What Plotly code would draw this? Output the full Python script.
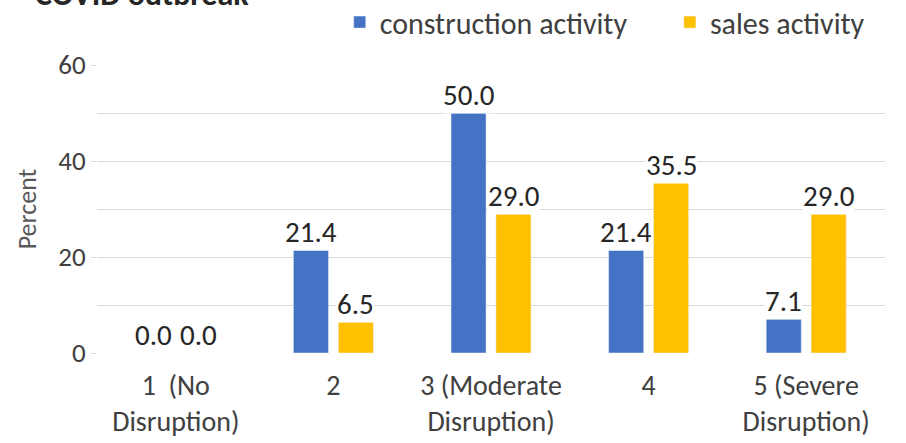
import plotly.graph_objects as go

categories = ["1  (No<br>Disruption)", "2", "3 (Moderate<br>Disruption)", "4", "5 (Severe<br>Disruption)"]
construction = [0.0, 21.4, 50.0, 21.4, 7.1]
sales = [0.0, 6.5, 29.0, 35.5, 29.0]
y_ticks = [0, 20, 40, 60]

FONT = "Carlito, Calibri, Lato, sans-serif"
TEXT = "#404040"
GRID = "#d9d9d9"
series = [
    ("construction activity", construction, "#4472C4", -22.5, "legend"),
    ("sales activity", sales, "#FFC000", 22.5, "legend2"),
]

fig = go.Figure()
annotations = []
for name, values, color, shift, leg in series:
    fig.add_trace(go.Bar(name=name, x=categories, y=values, marker_color=color, legend=leg))
    # value labels on a white box so gridlines break behind them
    for i, v in enumerate(values):
        annotations.append(dict(
            x=i, y=v, xref="x", yref="y", text=f"{v:.1f}", showarrow=False,
            xshift=shift, yshift=-1, xanchor="center", yanchor="bottom",
            bgcolor="white", borderpad=0,
            font=dict(size=29, color="#262626", family=FONT),
        ))

# chart heading, running off the top edge
annotations.append(dict(
    text="<b>COVID outbreak</b>", xref="paper", yref="paper",
    x=-0.081, y=1, xanchor="left", yanchor="bottom", yshift=49,
    font=dict(size=32, color="#262626", family=FONT), showarrow=False,
))

legend_style = dict(orientation="h", yanchor="middle", y=1.149, xanchor="left",
                    font=dict(size=30, color=TEXT), itemwidth=30, bgcolor="rgba(0,0,0,0)")

fig.update_layout(
    width=906, height=443,
    margin=dict(l=97, r=21, t=65, b=90, autoexpand=False),
    paper_bgcolor="white", plot_bgcolor="white",
    font=dict(family=FONT, size=28, color=TEXT),
    barmode="group", bargap=0.43, bargroupgap=0.22,
    showlegend=True,
    legend=dict(x=0.308, **legend_style),
    legend2=dict(x=0.727, **legend_style),
    annotations=annotations,
)
fig.update_xaxes(showline=False, ticks="", tickfont=dict(size=28, color=TEXT),
                 ticklabelstandoff=13)
fig.update_yaxes(
    range=[0, 60], tickvals=y_ticks, ticks="outside", ticklen=5, tickcolor=GRID,
    showgrid=True, gridcolor=GRID, gridwidth=1, zeroline=False, showline=False,
    minor=dict(dtick=10, showgrid=True, gridcolor=GRID, ticks=""),
    tickfont=dict(size=27, color=TEXT),
    title=dict(text="Percent", font=dict(size=26, color="#595959"), standoff=14),
)

fig.write_html("out.html")
